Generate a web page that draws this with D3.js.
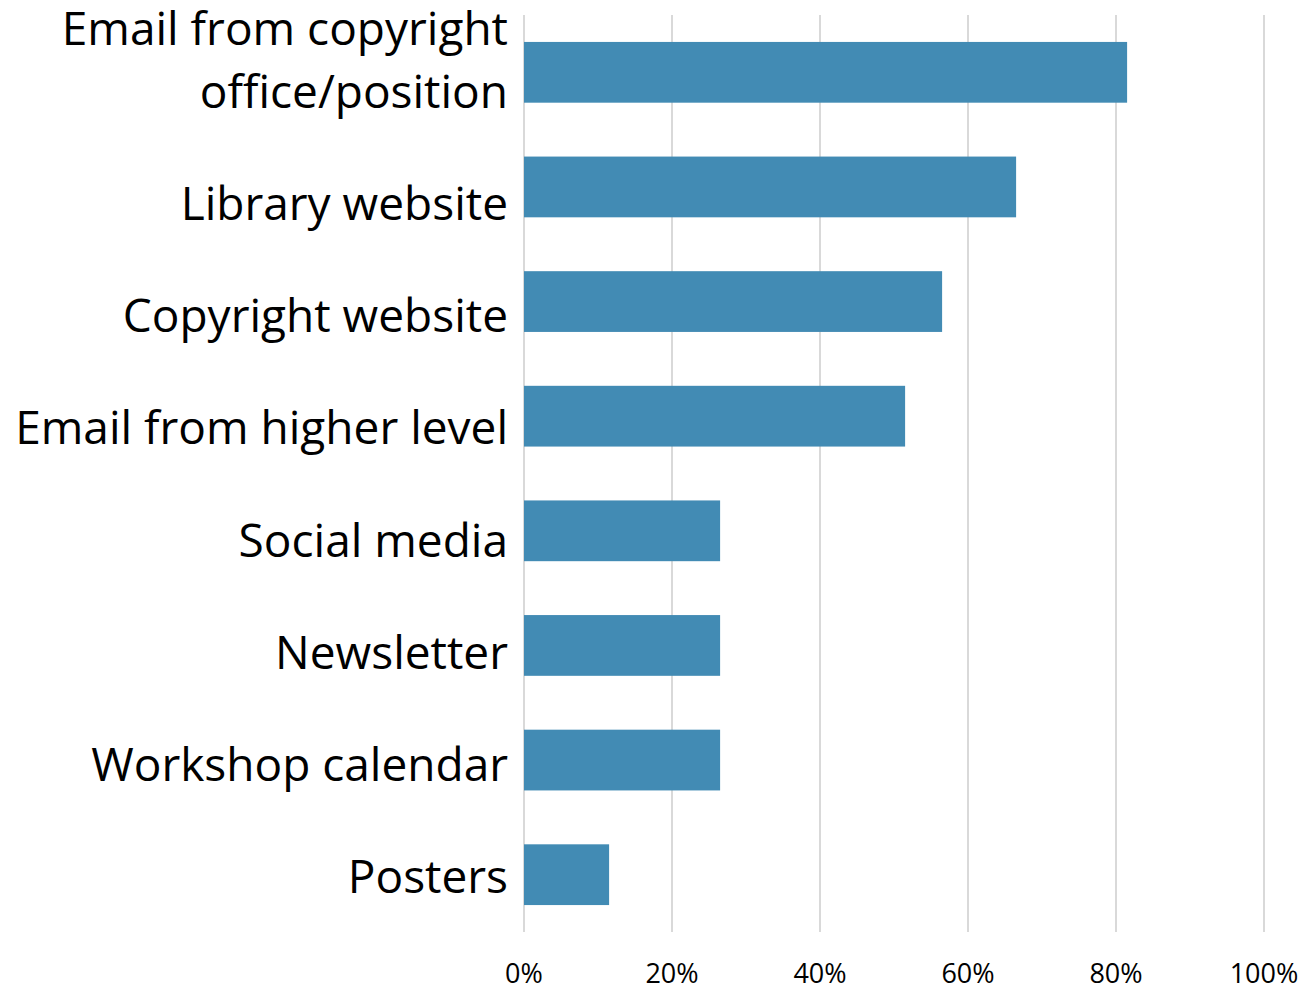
<!DOCTYPE html>
<html><head><meta charset="utf-8">
<script src="https://cdn.jsdelivr.net/npm/d3@7"></script>
<style>body{margin:0;background:#fff}</style>
</head><body>
<svg id="c" width="1306" height="995"></svg>
<script>
const categories = [["Email from copyright","office/position"],["Library website"],["Copyright website"],["Email from higher level"],["Social media"],["Newsletter"],["Workshop calendar"],["Posters"]];
const values = [81.5, 66.5, 56.5, 51.5, 26.5, 26.5, 26.5, 11.5];
const ticks = [0, 20, 40, 60, 80, 100];

(function(){
const svg = d3.select("#c");
const pL = 524, pR = 1264, pT = 15, pB = 932;
const x = d3.scaleLinear().domain([0, 100]).range([pL, pR]);
const y = d3.scaleBand().domain(d3.range(categories.length)).range([pT, pB]).paddingInner(0.47).paddingOuter(0.235);
const yLab = d3.scalePoint().domain(d3.range(categories.length)).range([108, 893]);

svg.append("g").selectAll("line").data(ticks).join("line")
  .attr("x1", d => x(d)).attr("x2", d => x(d))
  .attr("y1", pT).attr("y2", pB)
  .attr("stroke", "#d9d9d9").attr("stroke-width", 2);

svg.append("g").selectAll("rect").data(values).join("rect")
  .attr("x", x(0)).attr("y", (d, i) => y(i))
  .attr("width", d => x(d) - x(0)).attr("height", y.bandwidth())
  .attr("fill", "#428bb4");

svg.append("g").selectAll("text").data(ticks).join("text")
  .attr("x", d => x(d)).attr("y", 983)
  .attr("text-anchor", "middle")
  .attr("font-family", "'Liberation Sans Narrow', 'Open Sans', sans-serif")
  .attr("font-size", 27).attr("fill", "#000")
  .text(d => d + "%");

const lab = svg.append("g").selectAll("text").data(categories).join("text")
  .attr("text-anchor", "end")
  .attr("font-family", "'Open Sans', 'Noto Sans', sans-serif")
  .attr("font-size", 46).attr("fill", "#000");
lab.each(function(d, i) {
  const t = d3.select(this);
  const n = d.length, lh = 63;
  d.forEach((s, k) => {
    t.append("tspan").attr("x", 508)
      .attr("y", yLab(i) - (n - 1 - k) * lh)
      .text(s);
  });
});
})();
</script>
</body></html>
